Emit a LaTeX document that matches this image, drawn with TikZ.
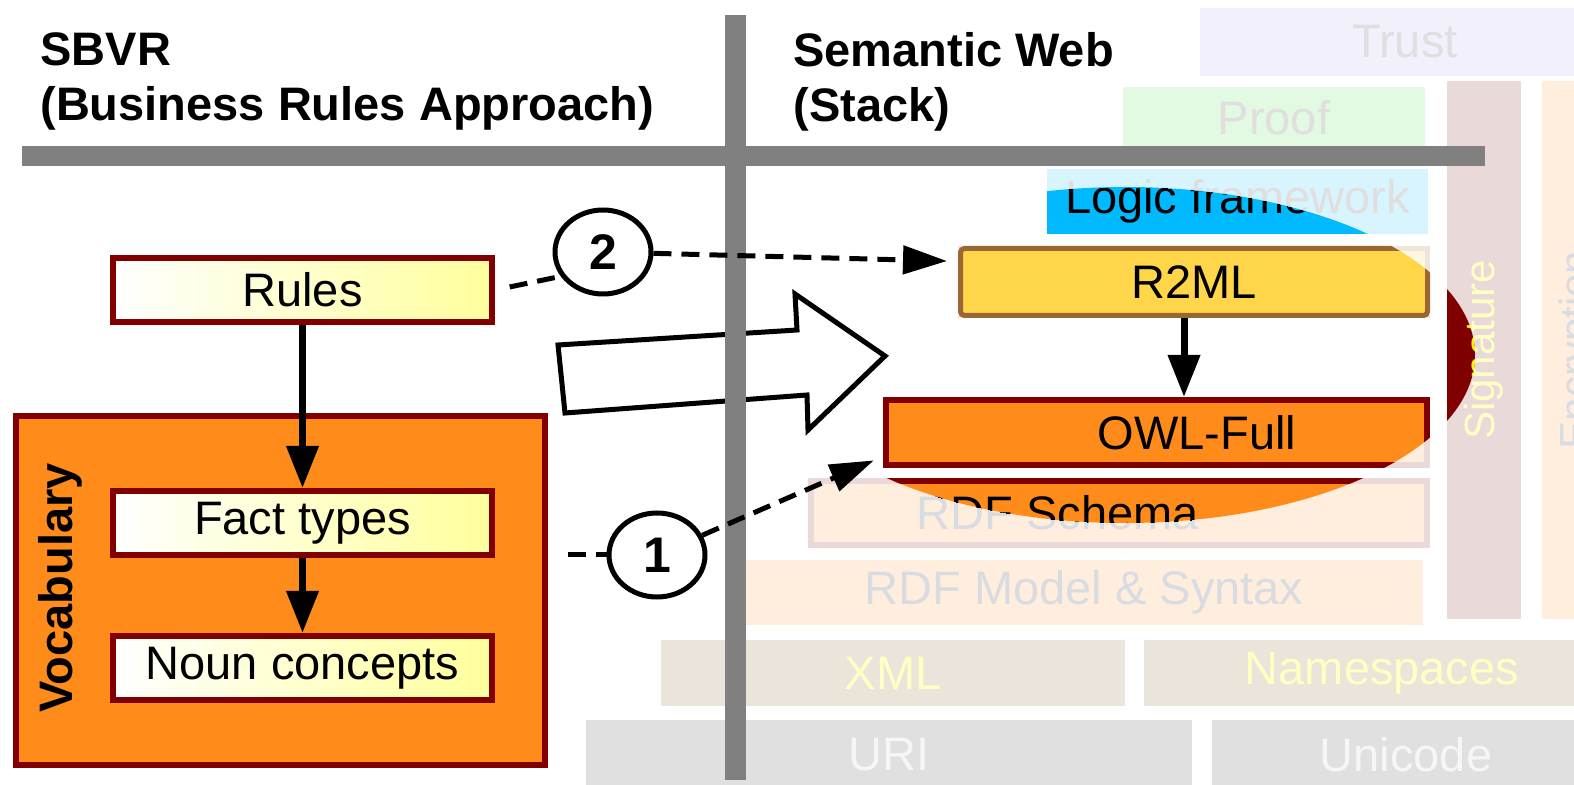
\documentclass[tikz,border=0pt]{standalone}
\usepackage{fontspec}
\setmainfont{Liberation Sans}
\usetikzlibrary{arrows.meta,shapes.geometric}

\newcommand\bigfont{\fontsize{23.5}{27.5}\selectfont}
\newcommand\sidefont{\fontsize{21}{25}\selectfont}

\definecolor{rule edge}{HTML}{800000}
\definecolor{rule area}{HTML}{FFFF9C}
\definecolor{vocab area}{HTML}{FF8C1A}
\definecolor{bar gray}{HTML}{808080}
\definecolor{r2ml area}{HTML}{FFD54A}
\definecolor{r2ml edge}{HTML}{9C6633}
\definecolor{logic area}{HTML}{00B9FF}
\definecolor{trust pale}{HTML}{F2F0FA}
\definecolor{proof pale}{HTML}{E1FAE1}
\definecolor{logic pale}{HTML}{D8F4FF}
\definecolor{sig pale}{HTML}{E9D9D9}
\definecolor{peach pale}{HTML}{FFEEDD}
\definecolor{xml pale}{HTML}{EBE4DA}
\definecolor{uri pale}{HTML}{E0E0E0}
\definecolor{r2ml pale}{HTML}{FFF7E0}
\definecolor{r2ml pale edge}{HTML}{EEE5DB}
\definecolor{gray text}{HTML}{E0DEDE}
\definecolor{blue text}{HTML}{D8DCE2}
\definecolor{cream text}{HTML}{FFFFC4}
\definecolor{white text}{HTML}{F6F6F6}

\tikzset{
  stack layer/.style={rectangle, inner sep=0pt, font=\bigfont},
  side layer/.style={stack layer, rotate=90, font=\sidefont,
    minimum width=269pt, minimum height=37pt},
  term box/.style={draw=rule edge, line width=3pt, left color=white,
    right color=rule area, minimum width=189.5pt, minimum height=32pt,
    inner sep=0pt, font=\bigfont},
  vocab box/.style={draw=rule edge, line width=3pt, fill=vocab area,
    minimum width=264.5pt, minimum height=174.5pt},
  num circle/.style={ellipse, draw, line width=2.5pt, fill=white,
    minimum width=48pt, minimum height=42pt, inner sep=0pt,
    font=\bfseries\fontsize{25}{30}\selectfont},
  head text/.style={anchor=north west, align=left, inner sep=0pt,
    font=\bfseries\bigfont}
  }
\tikzstyle{link} = [draw, line width=3.5pt, -{Triangle[length=21pt,width=15.5pt]}]
\tikzstyle{hint line} = [draw, line width=2.5pt, dash pattern=on 9pt off 5pt]
\tikzstyle{hint} = [hint line, -{Triangle[length=22pt,width=14pt]}]

\begin{document}
\begin{tikzpicture}[x=0.5pt,y=-0.5pt]
    \useasboundingbox (0,0) rectangle (1574,785);

    % Definition of the highlighted part of the stack
    \def\hilite{(1125,355) ellipse [x radius=175pt, y radius=84pt]};

    % pale stack
    \foreach \pos/\name/\lw/\lh/\bg/\fg/\txt in {
      {(1405,42)/trust/205pt/34pt/trust pale/gray text/Trust},
      {(1274,117.5)/proof/151pt/30.5pt/proof pale/gray text/Proof},
      {(1237.5,201.5)/logic/190.5pt/32.5pt/logic pale/gray text/Logic framework},
      {(1084,592.5)/rdfm/339pt/32.5pt/peach pale/blue text/RDF Model \& Syntax},
      {(893,673)/xml/232pt/33pt/xml pale/cream text/XML},
      {(1382,673)/ns/238pt/33pt/xml pale/cream text/Namespaces},
      {(889,755)/uri/303pt/35pt/uri pale/white text/URI},
      {(1406,755)/unicode/194pt/35pt/uri pale/white text/Unicode}} {
      \node[stack layer, fill=\bg, text=\fg, minimum width=\lw,
        minimum height=\lh] (\name) at \pos {\txt};
    }
    \node[side layer, fill=sig pale, text=cream text] (sig) at (1484,350) {Signature};
    \node[side layer, fill=peach pale, text=blue text] (enc) at (1579,350) {Encryption};
    \node[stack layer, draw=sig pale, line width=3pt, fill=peach pale, text=blue text,
      minimum width=308pt, minimum height=32pt] (rdfs) at (1119,513) {RDF Schema\hspace*{61pt}};
    \node[stack layer, draw=r2ml pale edge, line width=2.5pt, fill=r2ml pale,
      minimum width=233.5pt, minimum height=33.5pt] (r2ml pale) at (1194,282) {};
    \node[stack layer, draw=sig pale, line width=3pt, fill=peach pale,
      minimum width=270.5pt, minimum height=32.5pt] (owl pale) at (1156.5,432.5) {};

    % highlighted stack
    \begin{scope}
      \clip \hilite;
      \node[stack layer, fill=logic area, text=black, minimum width=190.5pt,
        minimum height=32.5pt] (logic hi) at (logic) {Logic framework};
      \node[side layer, fill=rule edge, text=yellow] (sig hi) at (sig) {Signature};
      \node[stack layer, draw=rule edge, line width=3pt, fill=vocab area, text=black,
        minimum width=308pt, minimum height=32pt] (rdfs hi) at (rdfs) {RDF Schema\hspace*{61pt}};
      \node[stack layer, draw=r2ml edge, line width=2.5pt, fill=r2ml area,
        rounded corners=2pt, minimum width=233.5pt, minimum height=33.5pt] (r2ml) at (r2ml pale) {R2ML};
      \node[stack layer, draw=rule edge, line width=3pt, fill=vocab area,
        minimum width=270.5pt, minimum height=32.5pt] (owl) at (owl pale) {\hspace*{40.5pt}OWL-Full};
    \end{scope}

    % hollow arrow
    \draw[line width=2.5pt, line join=miter] (558,345) -- (797,330) -- (795,294)
      -- (885,356) -- (808,430) -- (807,395) -- (565,413) -- cycle;

    % bars
    \fill[bar gray] (725,15) rectangle (746,780);
    \fill[bar gray] (22,146) rectangle (1485,166);

    \node[head text] (sbvr) at (40,32) {SBVR\\(Business Rules Approach)};
    \node[head text] (semweb) at (793,32) {Semantic Web\\(Stack)};

    % SBVR side
    \node[vocab box] (vocab) at (280.5,590.5) {};
    \node[font=\bfseries\bigfont, rotate=90] (vocab label) at (60,588) {Vocabulary};
    \foreach \pos/\name/\txt in {{(302.5,290)/rules/Rules},
      {(302.5,523)/fact/Fact types}, {(302.5,668)/noun/Noun concepts}} {
      \node[term box] (\name) at \pos {\txt};
    }
    \path[link] (rules) -- (fact);
    \path[link] (fact) -- (noun);
    \path[link] ([xshift=-5pt]r2ml.south) -- ([xshift=-5pt]r2ml.south |- owl.north);

    % mappings
    \node[num circle] (two) at (603,252) {2};
    \node[num circle] (one) at (657,555) {1};
    \path[hint line, shorten <=7.5pt] (rules.east) -- (two.210);
    \path[hint, shorten >=5.5pt] (two) -- (r2ml.175);
    \path[hint line, shorten <=10pt] (vocab.east |- one) -- (one);
    \path[hint, shorten >=5pt] (one) -- (owl.185);
\end{tikzpicture}
\end{document}
